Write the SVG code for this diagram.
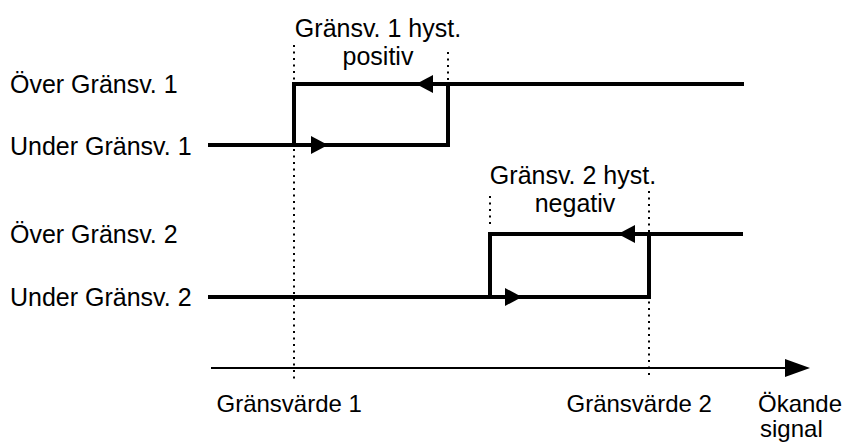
<svg xmlns="http://www.w3.org/2000/svg" width="847" height="446" viewBox="0 0 847 446">
<style>
.lbl{font-family:"Liberation Sans",Arial,sans-serif;font-size:25px;fill:#000}
.bot{font-size:24px}
.mid{text-anchor:middle}
.sig{fill:none;stroke:#000;stroke-width:4;stroke-linejoin:miter;stroke-linecap:butt}
.dot{fill:none;stroke:#000;stroke-width:2;stroke-dasharray:2 4.5}
.axis{fill:none;stroke:#000;stroke-width:2}
</style>
<defs>
<path id="tri" d="M0,0 L-17,-9 L-17,9 Z" fill="#000"/>
</defs>
<rect width="847" height="446" fill="#fff"/>
<g id="guides">
<line class="dot" x1="294" y1="45" x2="294" y2="379"/>
<line class="dot" x1="448" y1="52" x2="448" y2="80"/>
<line class="dot" x1="490" y1="196" x2="490" y2="224"/>
<line class="dot" x1="649" y1="191" x2="649" y2="379"/>
</g>
<g id="connectors">
<g id="loop1">
<path class="sig" d="M208,145 H448 V84"/>
<path class="sig" d="M294,145 V84 H744"/>
<use href="#tri" transform="translate(328,145)"/>
<use href="#tri" transform="translate(416,84) rotate(180)"/>
</g>
<g id="loop2">
<path class="sig" d="M208,297 H649 V234"/>
<path class="sig" d="M490,297 V234 H743"/>
<use href="#tri" transform="translate(522,297)"/>
<use href="#tri" transform="translate(618,234) rotate(180)"/>
</g>
<g id="axis">
<line class="axis" x1="211" y1="368" x2="790" y2="368"/>
<path d="M810,368 L785,359 L785,377 Z" fill="#000"/>
</g>
</g>
<g id="label-over1"><text class="lbl" x="10" y="93">Över Gränsv. 1</text></g>
<g id="label-under1"><text class="lbl" x="10" y="155">Under Gränsv. 1</text></g>
<g id="label-over2"><text class="lbl" x="10" y="243">Över Gränsv. 2</text></g>
<g id="label-under2"><text class="lbl" x="10" y="306">Under Gränsv. 2</text></g>
<g id="label-hyst1"><text class="lbl mid" x="378" y="36.5">Gränsv. 1 hyst.</text><text class="lbl mid" x="378" y="65">positiv</text></g>
<g id="label-hyst2"><text class="lbl mid" x="573" y="183.5">Gränsv. 2 hyst.</text><text class="lbl mid" x="575" y="212">negativ</text></g>
<g id="label-gv1"><text class="lbl bot" x="216.5" y="412">Gränsvärde 1</text></g>
<g id="label-gv2"><text class="lbl bot" x="566.5" y="412">Gränsvärde 2</text></g>
<g id="label-signal"><text class="lbl bot" x="758" y="412">Ökande</text><text class="lbl bot" x="760" y="437">signal</text></g>
</svg>
